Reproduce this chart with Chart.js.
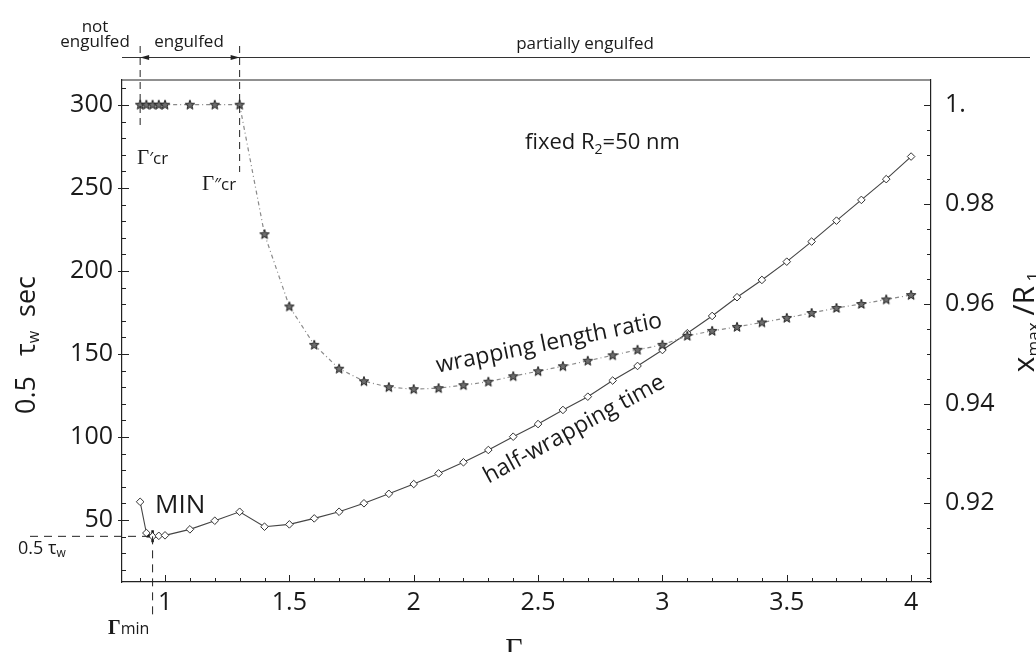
<!DOCTYPE html>
<html><head><meta charset="utf-8">
<script src="https://cdn.jsdelivr.net/npm/chart.js@4.4.1/dist/chart.umd.min.js"></script>
<style>html,body{margin:0;padding:0;background:#fff}#wrap{width:1036px;height:652px;position:relative}</style>
</head><body><div id="wrap"><canvas id="c" width="1036" height="652"></canvas></div>
<script>
// ---- data ----
const gammaTime = [0.9,0.925,0.95,0.975,1.0,1.1,1.2,1.3,1.4,1.5,1.6,1.7,1.8,1.9,2.0,2.1,2.2,2.3,2.4,2.5,2.6,2.7,2.8,2.9,3.0,3.1,3.2,3.3,3.4,3.5,3.6,3.7,3.8,3.9,4.0];
const halfTime  = [61.0,42.2,40.2,40.5,40.8,44.4,49.6,55.0,46.0,47.4,51.0,55.0,60.1,65.8,71.7,78.1,84.8,92.2,100.2,107.8,116.3,124.3,134.0,142.8,152.4,162.5,172.9,184.2,194.6,205.6,217.7,230.3,242.8,255.3,268.9];
const gammaRatio = [0.9,0.925,0.95,0.975,1.0,1.1,1.2,1.3,1.4,1.5,1.6,1.7,1.8,1.9,2.0,2.1,2.2,2.3,2.4,2.5,2.6,2.7,2.8,2.9,3.0,3.1,3.2,3.3,3.4,3.5,3.6,3.7,3.8,3.9,4.0];
const lengthRatio = [1,1,1,1,1,1,1,1,0.974,0.9595,0.9518,0.947,0.9445,0.9433,0.9429,0.9431,0.9437,0.9444,0.9455,0.9465,0.9475,0.9486,0.9497,0.9508,0.9518,0.9536,0.9546,0.9554,0.9563,0.9572,0.9582,0.9592,0.9600,0.9609,0.9618];
const xTicks = [1,1.5,2,2.5,3,3.5,4];
const xTickLabels = ['1','1.5','2','2.5','3','3.5','4'];
const leftTicks = [50,100,150,200,250,300];
const leftTickLabels = ['50','100','150','200','250','300'];
const rightTicks = [0.92,0.94,0.96,0.98,1.0];
const rightTickLabels = ['0.92','0.94','0.96','0.98','1.'];
const gammaCrLow = 0.9, gammaCrHigh = 1.3;

const FONT = "'Open Sans', sans-serif";
const SERIF = "'Liberation Serif', 'DejaVu Serif', serif";

// minimum of the half-wrapping time
let iMin = 0; halfTime.forEach((v,i)=>{ if (v < halfTime[iMin]) iMin = i; });
const minPoint = [{x: gammaTime[iMin], y: halfTime[iMin]}];

// star marker
const starImg = document.createElement('canvas');
starImg.width = 12; starImg.height = 12;
(function(){
  const c = starImg.getContext('2d'); const cx=6, cy=6.3, R=5.0, r=2.1;
  c.beginPath();
  for (let k=0;k<10;k++){ const ang=-Math.PI/2 + k*Math.PI/5; const rr = k%2?r:R; c.lineTo(cx+rr*Math.cos(ang), cy+rr*Math.sin(ang)); }
  c.closePath(); c.fillStyle='#6e6e6e'; c.fill(); c.strokeStyle='#222'; c.lineWidth=1; c.stroke();
})();

function richWidth(ctx, parts){ let w=0; for(const p of parts){ctx.font=p.f; w+=ctx.measureText(p.t).width+(p.gap||0);} return w; }
function drawRich(ctx, parts, x, y, align){
  const w = richWidth(ctx, parts);
  let cx = align==='center' ? x-w/2 : (align==='right' ? x-w : x);
  for (const p of parts){ ctx.font=p.f; ctx.fillText(p.t, cx, y+(p.dy||0)); cx += ctx.measureText(p.t).width+(p.gap||0); }
}
function seg(ctx,x1,y1,x2,y2){ ctx.beginPath(); ctx.moveTo(x1,y1); ctx.lineTo(x2,y2); ctx.stroke(); }

const deco = {
  id: 'deco',
  afterDraw(chart){
    const {ctx, chartArea:a, scales} = chart;
    const sx = scales.x, sy = scales.y, sy2 = scales.y2;
    ctx.save();
    ctx.strokeStyle = '#222'; ctx.lineWidth = 1.2;
    seg(ctx, a.left, a.top, a.right, a.top);
    ctx.lineWidth = 1;
    // left ticks
    for (let v=20; v<=310; v+=10){
      const py = Math.round(sy.getPixelForValue(v))+0.5;
      if (leftTicks.includes(v)) seg(ctx, a.left-4, py, a.left+7, py); else seg(ctx, a.left, py, a.left+4, py);
    }
    // bottom ticks
    for (let k=9; k<=40; k++){
      const v = k/10; const px = Math.round(sx.getPixelForValue(v))+0.5;
      if (k%5===0) seg(ctx, px, a.bottom, px, a.bottom-7); else seg(ctx, px, a.bottom, px, a.bottom-4);
    }
    // right ticks
    for (let k=181; k<=200; k++){
      const v = k/200; const py = Math.round(sy2.getPixelForValue(v))+0.5;
      if (k%4===0) seg(ctx, a.right, py, a.right-7, py); else seg(ctx, a.right, py, a.right-4, py);
    }
    // top region annotation
    const x1 = sx.getPixelForValue(gammaCrLow), x2 = sx.getPixelForValue(gammaCrHigh);
    ctx.strokeStyle = '#333'; ctx.lineWidth = 1;
    seg(ctx, a.left, 57.5, 1030, 57.5);
    ctx.fillStyle = '#222';
    ctx.beginPath(); ctx.moveTo(x1,57.5); ctx.lineTo(x1+9,55); ctx.lineTo(x1+9,60); ctx.closePath(); ctx.fill();
    ctx.beginPath(); ctx.moveTo(x2,57.5); ctx.lineTo(x2-9,55); ctx.lineTo(x2-9,60); ctx.closePath(); ctx.fill();
    ctx.setLineDash([7,5]); ctx.strokeStyle='#222';
    seg(ctx, x1, 46, x1, 128);
    seg(ctx, x2, 46, x2, 172);
    // gamma min dashed lines
    const xm = sx.getPixelForValue(minPoint[0].x), ym = sy.getPixelForValue(minPoint[0].y);
    ctx.setLineDash([8,6]);
    seg(ctx, 30, ym, xm, ym);
    seg(ctx, xm, ym, xm, 620);
    ctx.setLineDash([]);

    // texts
    ctx.fillStyle = '#1a1a1a'; ctx.textBaseline = 'alphabetic'; ctx.textAlign = 'left';
    drawRich(ctx, [{t:'not', f:`17px ${FONT}`}], 95, 32, 'center');
    drawRich(ctx, [{t:'engulfed', f:`17px ${FONT}`}], 95, 47, 'center');
    drawRich(ctx, [{t:'engulfed', f:`17px ${FONT}`}], 189, 47, 'center');
    drawRich(ctx, [{t:'partially engulfed', f:`17px ${FONT}`}], 585, 49, 'center');
    drawRich(ctx, [{t:'\u0393', f:`21px ${SERIF}`},{t:'\u2032cr', f:`17px ${FONT}`}], 137, 164, 'left');
    drawRich(ctx, [{t:'\u0393', f:`21px ${SERIF}`},{t:'\u2033cr', f:`17px ${FONT}`}], 202, 190, 'left');
    drawRich(ctx, [{t:'fixed R', f:`22px ${FONT}`},{t:'2', f:`14px ${FONT}`, dy:5},{t:'=50 nm', f:`22px ${FONT}`}], 525, 149, 'left');
    drawRich(ctx, [{t:'MIN', f:`26px ${FONT}`}], 155, 513, 'left');
    drawRich(ctx, [{t:'0.5 \u03c4', f:`18px ${FONT}`},{t:'w', f:`12px ${FONT}`, dy:3}], 18, 554, 'left');
    drawRich(ctx, [{t:'\u0393', f:`bold 20px ${SERIF}`},{t:'min', f:`16px ${FONT}`}], 108, 634, 'left');
    drawRich(ctx, [{t:'\u0393', f:`30px ${SERIF}`}], 514, 658, 'center');

    // rotated curve labels
    ctx.save(); ctx.translate(549, 343); ctx.rotate(-11.5*Math.PI/180);
    drawRich(ctx, [{t:'wrapping length ratio', f:`23px ${FONT}`}], 0, 7, 'center'); ctx.restore();
    ctx.save(); ctx.translate(574, 429); ctx.rotate(-28.6*Math.PI/180);
    drawRich(ctx, [{t:'half-wrapping time', f:`23px ${FONT}`}], 0, 7, 'center'); ctx.restore();

    // axis titles
    ctx.save(); ctx.translate(35, 345); ctx.rotate(-Math.PI/2);
    drawRich(ctx, [{t:'0.5', f:`27px ${FONT}`, gap:20},{t:'\u03c4', f:`27px ${FONT}`},{t:'w', f:`16px ${FONT}`, dy:4, gap:14},{t:'sec', f:`27px ${FONT}`}], 0, 0, 'center'); ctx.restore();
    ctx.save(); ctx.translate(1034, 322); ctx.rotate(-Math.PI/2);
    drawRich(ctx, [{t:'x', f:`30px ${FONT}`},{t:'max', f:`17px ${FONT}`, dy:5, gap:7},{t:'/R', f:`30px ${FONT}`},{t:' 1', f:`17px ${FONT}`, dy:5}], 0, 0, 'center'); ctx.restore();

    ctx.restore();
  }
};

const tickFont = {family: FONT, size: 25};
new Chart(document.getElementById('c'), {
  type: 'scatter',
  data: { datasets: [
    { label: 'wrapping length ratio', yAxisID: 'y2', showLine: true,
      data: gammaRatio.map((g,i)=>({x:g, y:lengthRatio[i]})),
      borderColor: '#8a8a8a', borderWidth: 1.2, borderDash: [4,3,1,3],
      pointStyle: starImg, pointRadius: 5 },
    { label: 'half-wrapping time', yAxisID: 'y', showLine: true,
      data: gammaTime.map((g,i)=>({x:g, y:halfTime[i]})),
      borderColor: '#444', borderWidth: 1.1,
      pointStyle: 'rectRot', pointRadius: 3.8, pointBackgroundColor: '#fff', pointBorderColor: '#333', pointBorderWidth: 1 },
    { label: 'MIN', yAxisID: 'y', data: minPoint,
      pointStyle: 'cross', pointRadius: 6, borderColor: '#111', pointBorderWidth: 2.5 }
  ]},
  options: {
    responsive: false, animation: false, devicePixelRatio: 1,
    layout: { padding: {top: 80, left: 0, right: 0, bottom: 0} },
    plugins: { legend: {display: false}, tooltip: {enabled: false} },
    scales: {
      x: { type: 'linear', position: 'bottom', min: 0.827, max: 4.08,
        afterFit: s => { s.height = 70; },
        afterBuildTicks: s => { s.ticks = xTicks.map(v=>({value:v})); },
        grid: {display: false, drawTicks: false},
        border: {display: true, color: '#222', width: 1.2},
        ticks: { font: tickFont, color: '#1a1a1a', padding: 6, maxRotation: 0, autoSkip: false,
          callback: (v) => xTickLabels[xTicks.indexOf(v)] } },
      y: { type: 'linear', position: 'left', min: 12.7, max: 315,
        afterFit: s => { s.width = 122; },
        afterBuildTicks: s => { s.ticks = leftTicks.map(v=>({value:v})); },
        grid: {display: false, drawTicks: false},
        border: {display: true, color: '#222', width: 1.2},
        ticks: { font: tickFont, color: '#1a1a1a', padding: 9, autoSkip: false,
          callback: (v) => leftTickLabels[leftTicks.indexOf(v)] } },
      y2: { type: 'linear', position: 'right', min: 0.90419, max: 1.00496,
        afterFit: s => { s.width = 105; },
        afterBuildTicks: s => { s.ticks = rightTicks.map(v=>({value:v})); },
        grid: {display: false, drawTicks: false},
        border: {display: true, color: '#222', width: 1.2},
        ticks: { font: tickFont, color: '#1a1a1a', padding: 14, autoSkip: false,
          callback: (v) => rightTickLabels[rightTicks.findIndex(t=>Math.abs(t-v)<1e-9)] } }
    }
  },
  plugins: [deco]
});
</script></body></html>
